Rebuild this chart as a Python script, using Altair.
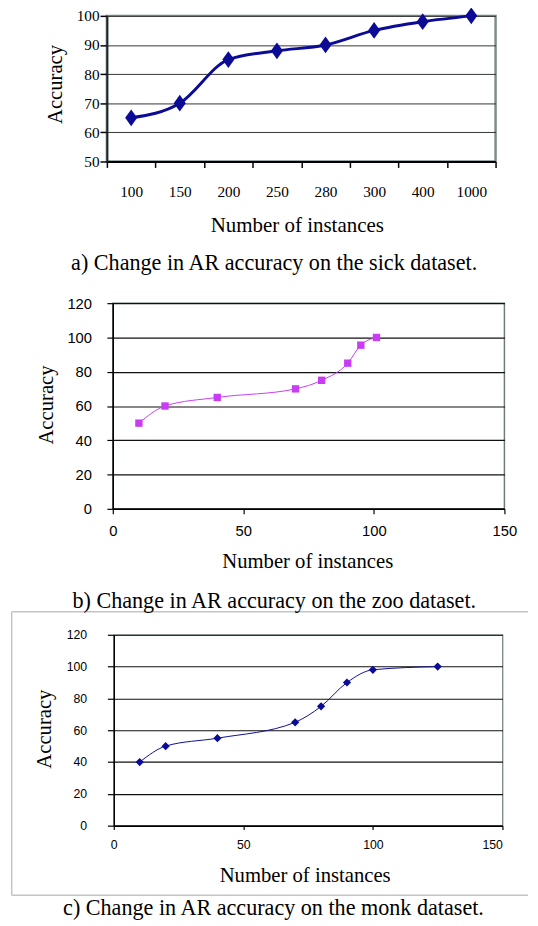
import altair as alt
import pandas as pd

SERIF = "Liberation Serif"
SANS = "Liberation Sans"

# ---------------- data ----------------
sick_n = ["100", "150", "200", "250", "280", "300", "400", "1000"]
sick_acc = [65, 70, 85, 88, 90, 95, 98, 100]

zoo_n = [10, 20, 40, 70, 80, 90, 95, 101]
zoo_acc = [50, 60, 65, 70, 75, 85, 95.5, 100]

monk_n = [10, 20, 40, 70, 80, 90, 100, 125]
monk_acc = [40, 50, 55, 65, 75, 90, 98, 100]

sick_ticks = [50, 60, 70, 80, 90, 100]
acc_ticks = [0, 20, 40, 60, 80, 100, 120]
inst_ticks = [0, 50, 100, 150]

x_title = "Number of instances"
y_title = "Accuracy"
cap_a = "a) Change in AR accuracy on the sick dataset."
cap_b = "b) Change in AR accuracy on the zoo dataset."
cap_c = "c) Change in AR accuracy on the monk dataset."

NAVY = "#0b0b96"
MAGENTA = "#c83cf5"
TALL_DIAMOND = "M0,-1L0.72,0L0,1L-0.72,0Z"

one = pd.DataFrame({"k": [0]})


def spacer(x, y, y2):
    return alt.Chart(one).mark_rule(color="white", strokeWidth=1).encode(
        x=alt.value(x), y=alt.value(y), y2=alt.value(y2))


def rule(x, x2, y, y2, color, w):
    return alt.Chart(one).mark_rule(color=color, strokeWidth=w).encode(
        x=alt.value(x), x2=alt.value(x2), y=alt.value(y), y2=alt.value(y2))


def caption(s, x, y, size=22.5):
    return alt.Chart(one).mark_text(text=s, font=SERIF, fontSize=size, align="center",
                                    baseline="middle", color="black").encode(
        x=alt.value(x), y=alt.value(y))


def indent(w):
    # invisible left margin block used to shift a panel horizontally
    return alt.Chart(one).mark_rule(color="white", opacity=0).encode(
        x=alt.value(0), y=alt.value(0), y2=alt.value(1)
    ).properties(width=w, height=1,
                 view=alt.ViewBackground(strokeWidth=0, strokeOpacity=0))


# ---------------- panel a ----------------
dfa = pd.DataFrame({"n": sick_n, "acc": sick_acc})
xa = alt.X("n:N", sort=sick_n, bandPosition=0.5,
           scale=alt.Scale(type="band", paddingInner=0, paddingOuter=0),
           axis=alt.Axis(title=x_title, labelAngle=0, tickBand="extent", grid=False,
                         labelFont=SERIF, labelFontSize=15.5, labelColor="black",
                         labelBaseline="middle", labelPadding=24.3,
                         tickSize=6, tickColor="black", tickWidth=1.5,
                         domainColor="black", domainWidth=2,
                         titleFont=SERIF, titleFontSize=21.3, titleFontWeight="normal",
                         titleColor="black", titleX=193, titleY=65.5,
                         titleAlign="center", titleBaseline="middle"))
ya = alt.Y("acc:Q", scale=alt.Scale(domain=[50, 100], nice=False, zero=False),
           axis=alt.Axis(values=sick_ticks, title=y_title, grid=True, gridColor="#333333",
                         gridWidth=1, labelFont=SERIF, labelFontSize=15.5, labelColor="black",
                         labelPadding=1, tickSize=7, tickColor="black", tickWidth=1.5,
                         domainColor="#1a2626", domainWidth=2,
                         titleFont=SERIF, titleFontSize=21, titleFontWeight="normal",
                         titleColor="black", titleAngle=270, titleX=-52, titleY=69.2,
                         titleAlign="center", titleBaseline="middle"))
line_a = alt.Chart(dfa).mark_line(color=NAVY, strokeWidth=3, interpolate="monotone").encode(x=xa, y=ya)
pts_a = alt.Chart(dfa).mark_point(shape=TALL_DIAMOND, filled=True, size=289, color=NAVY,
                                  opacity=1).encode(x=xa, y=ya)
panel_a = alt.layer(
    spacer(-104, -7.5, 269.5), line_a, pts_a, caption(cap_a, 170, 251.2)
).properties(width=395, height=148,
             view=alt.ViewBackground(stroke="#7f8c8c", strokeWidth=2.5))

# ---------------- panel b ----------------
dfb = pd.DataFrame({"n": zoo_n, "acc": zoo_acc})
xb = alt.X("n:Q", scale=alt.Scale(domain=[0, 150], nice=False),
           axis=alt.Axis(values=inst_ticks, title=x_title, grid=False, labelFlush=False,
                         labelFont=SANS, labelFontSize=15, labelColor="black",
                         labelBaseline="middle", labelPadding=17,
                         tickSize=5, tickColor="black", tickWidth=1.2,
                         domainColor="black", domainWidth=1.5,
                         titleFont=SERIF, titleFontSize=21, titleFontWeight="normal",
                         titleColor="black", titleX=197.6, titleY=54,
                         titleAlign="center", titleBaseline="middle"))
yb = alt.Y("acc:Q", scale=alt.Scale(domain=[0, 120], nice=False),
           axis=alt.Axis(values=acc_ticks, title=y_title, grid=True, gridColor="#111111",
                         gridWidth=1.2, labelFont=SANS, labelFontSize=15, labelColor="black",
                         labelPadding=15.6, tickSize=6, tickColor="black", tickWidth=1.2,
                         domainColor="black", domainWidth=1.5,
                         titleFont=SERIF, titleFontSize=21, titleFontWeight="normal",
                         titleColor="black", titleAngle=270, titleX=-67.7, titleY=103,
                         titleAlign="center", titleBaseline="middle"))
line_b = alt.Chart(dfb).mark_line(color=MAGENTA, strokeWidth=1, interpolate="monotone").encode(x=xb, y=yb)
pts_b = alt.Chart(dfb).mark_point(shape="square", filled=True, size=56, color=MAGENTA,
                                  opacity=1).encode(x=xb, y=yb)
panel_b = alt.layer(
    spacer(-104, -18, 285), line_b, pts_b
).properties(width=398, height=209,
             view=alt.ViewBackground(stroke="#6f7a7a", strokeWidth=1.5))

# ---------------- panel c ----------------
dfc = pd.DataFrame({"n": monk_n, "acc": monk_acc})
xc = alt.X("n:Q", scale=alt.Scale(domain=[0, 150], nice=False),
           axis=alt.Axis(values=inst_ticks, title=x_title, grid=False, labelFlush=False,
                         labelFont=SANS, labelFontSize=12.5, labelColor="black",
                         labelBaseline="middle", labelPadding=15.3,
                         labelAlign=alt.condition("datum.value == 150", alt.value("right"),
                                                  alt.value("center")),
                         tickSize=4, tickColor="black", tickWidth=1.2,
                         domainColor="black", domainWidth=1.5,
                         titleFont=SERIF, titleFontSize=21, titleFontWeight="normal",
                         titleColor="black", titleX=194, titleY=51,
                         titleAlign="center", titleBaseline="middle"))
yc = alt.Y("acc:Q", scale=alt.Scale(domain=[0, 120], nice=False),
           axis=alt.Axis(values=acc_ticks, title=y_title, grid=True, gridColor="#111111",
                         gridWidth=1.2, labelFont=SANS, labelFontSize=12.5, labelColor="black",
                         labelPadding=21, tickSize=6.5, tickColor="black", tickWidth=1.2,
                         domainColor="black", domainWidth=1.5,
                         titleFont=SERIF, titleFontSize=21, titleFontWeight="normal",
                         titleColor="black", titleAngle=270, titleX=-69.9, titleY=95.4,
                         titleAlign="center", titleBaseline="middle"))
line_c = alt.Chart(dfc).mark_line(color=NAVY, strokeWidth=1, interpolate="monotone").encode(x=xc, y=yc)
pts_c = alt.Chart(dfc).mark_point(shape="diamond", filled=True, size=70, color=NAVY,
                                  opacity=1).encode(x=xc, y=yc)
BOX = "#c4c4c4"
panel_c = alt.layer(
    spacer(-103.75, -48, 270),
    rule(-103.75, 421, -23.3, -23.3, BOX, 1.5),
    rule(-103.75, -103.75, -23.3, 264.7, BOX, 1.5),
    rule(-103.75, 421, 264.7, 264.7, BOX, 1.5),
    line_c, pts_c,
    caption(cap_b, 163.1, -34.3),
    caption(cap_c, 162.3, 277.3),
).properties(width=395, height=194,
             view=alt.ViewBackground(stroke="#6f7a7a", strokeWidth=1.2))

row_a = alt.hconcat(indent(1), panel_a, spacing=0)
row_b = alt.hconcat(indent(7), panel_b, spacing=0)
row_c = alt.hconcat(indent(8), panel_c, spacing=0)

chart = alt.ConcatChart(
    concat=[row_a, row_b, row_c], columns=1, spacing=0, bounds="full",
    padding={"left": -6.5, "top": -9.5, "right": 0, "bottom": 0},
    background="white",
)

chart.save("out.html", embed_options={"renderer": "svg", "actions": False})
